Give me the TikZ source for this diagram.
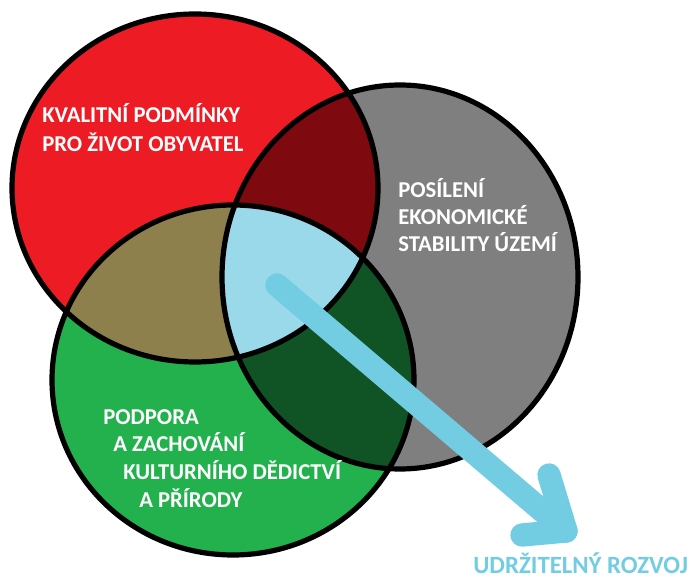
\documentclass[tikz,border=0pt]{standalone}
\usepackage{fontspec}
\setmainfont{Carlito}
\usepackage{xcolor}

\definecolor{paintred}{HTML}{ED1C24}
\definecolor{paintgrey}{HTML}{7F7F7F}
\definecolor{paintgreen}{HTML}{22B14C}
\definecolor{darkred}{HTML}{7E0A10}
\definecolor{olivemix}{HTML}{8E804C}
\definecolor{darkgreen}{HTML}{105426}
\definecolor{centreblue}{HTML}{99D9EA}
\definecolor{arrowblue}{HTML}{72CCE2}

\begin{document}
\begin{tikzpicture}[
  x=0.75pt,
  y=-0.75pt,
  ring/.style={draw=black,line width=3.9pt},
  areatext/.style={anchor=base west,inner sep=0pt,text=white,
    font=\bfseries\fontsize{17}{20}\selectfont},
  goal/.style={draw=arrowblue,line width=17.5pt,line cap=round,line join=round},
  goaltext/.style={anchor=base west,inner sep=0pt,text=arrowblue,
    font=\bfseries\fontsize{18.6}{22}\selectfont}
]
\useasboundingbox (0,0) rectangle (694,580);

\coordinate (quality) at (195,188);
\coordinate (economy) at (400,277);
\coordinate (heritage) at (233,380);

% base fills
\fill[paintred] (quality) ellipse [x radius=183,y radius=174];
\fill[paintgrey] (economy) ellipse [x radius=178,y radius=192];
\fill[paintgreen] (heritage) ellipse [x radius=181,y radius=175];

% overlaps
\begin{scope}
  \clip (economy) ellipse [x radius=178,y radius=192];
  \fill[darkgreen] (heritage) ellipse [x radius=181,y radius=175];
\end{scope}
\begin{scope}
  \clip (quality) ellipse [x radius=183,y radius=174];
  \fill[darkred] (economy) ellipse [x radius=178,y radius=192];
  \fill[olivemix] (heritage) ellipse [x radius=181,y radius=175];
  \clip (economy) ellipse [x radius=178,y radius=192];
  \fill[centreblue] (heritage) ellipse [x radius=181,y radius=175];
\end{scope}

\draw[ring] (quality) ellipse [x radius=183,y radius=174];
\draw[ring] (economy) ellipse [x radius=178,y radius=192];
\draw[ring] (heritage) ellipse [x radius=181,y radius=175];

\node[areatext] (quality1) at (42,123) {KVALITNÍ PODMÍNKY};
\node[areatext] (quality2) at (42,152) {PRO ŽIVOT OBYVATEL};

\node[areatext] (economy1) at (398,198) {POSÍLENÍ};
\node[areatext] (economy2) at (398,225) {EKONOMICKÉ};
\node[areatext] (economy3) at (398,252) {STABILITY ÚZEMÍ};

\node[areatext] (heritage1) at (103,425) {PODPORA};
\node[areatext] (heritage2) at (113,452) {A ZACHOVÁNÍ};
\node[areatext] (heritage3) at (123,480) {KULTURNÍHO DĚDICTVÍ};
\node[areatext] (heritage4) at (139,508) {A PŘÍRODY};

% sustainable development arrow
\coordinate (tail) at (277,285);
\coordinate (tip) at (566,531);
\coordinate (barbup) at (549,475);
\coordinate (barblow) at (522,535);
\draw[goal] (tail) -- (tip);
\draw[goal] (barbup) -- (tip) -- (barblow);

\node[goaltext] (goal) at (473,574) {UDRŽITELNÝ ROZVOJ};

\end{tikzpicture}
\end{document}
